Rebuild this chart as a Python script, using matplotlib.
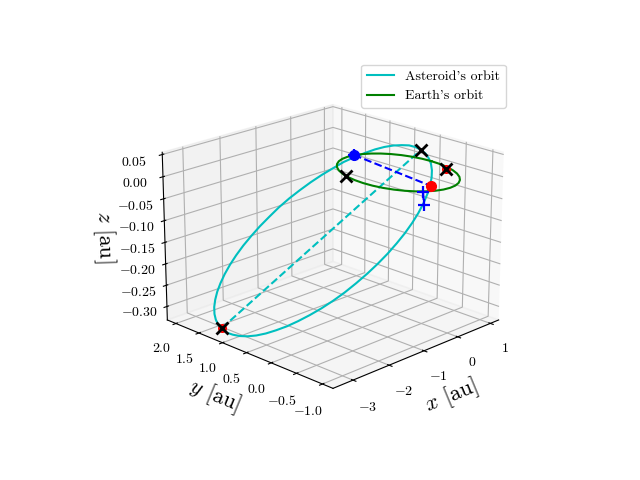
import matplotlib
matplotlib.use('Agg')
import matplotlib.pyplot as plt

plt.rcParams['mathtext.fontset'] = 'cm'
plt.rcParams['font.family'] = ['cmr10', 'DejaVu Serif']
plt.rcParams['axes.formatter.use_mathtext'] = True
plt.rcParams['axes.unicode_minus'] = True

# Asteroid's orbit, au
ast_x = [0.500, 0.445, 0.368, 0.274, 0.162, 0.033, -0.112, -0.269, -0.439, -0.618,
         -0.806, -1.000, -1.198, -1.398, -1.597, -1.793, -1.985, -2.170, -2.346, -2.511,
         -2.663, -2.802, -2.923, -3.029, -3.115, -3.184, -3.231, -3.258, -3.264, -3.249,
         -3.213, -3.158, -3.083, -2.988, -2.876, -2.746, -2.603, -2.444, -2.275, -2.095,
         -1.907, -1.713, -1.515, -1.316, -1.117, -0.920, -0.728, -0.544, -0.368, -0.203,
         -0.050, 0.087, 0.210, 0.315, 0.402, 0.469, 0.517, 0.544, 0.551, 0.536, 0.500]
ast_y = [-0.119, -0.241, -0.354, -0.457, -0.549, -0.628, -0.694, -0.747, -0.785, -0.808, -0.816, -0.808,
         -0.786, -0.749, -0.697, -0.632, -0.553, -0.462, -0.359, -0.247, -0.125, 0.004, 0.140, 0.280,
         0.423, 0.568, 0.713, 0.857, 0.997, 1.133, 1.262, 1.384, 1.497, 1.600, 1.692, 1.771,
         1.837, 1.890, 1.928, 1.951, 1.959, 1.951, 1.929, 1.892, 1.840, 1.775, 1.696, 1.605,
         1.502, 1.390, 1.268, 1.139, 1.004, 0.863, 0.720, 0.575, 0.430, 0.287, 0.146, 0.011, -0.119]
ast_z = [0.042, 0.039, 0.034, 0.028, 0.019, 0.009, -0.003, -0.016, -0.031, -0.047, -0.064, -0.082,
         -0.100, -0.119, -0.138, -0.157, -0.176, -0.195, -0.213, -0.230, -0.246, -0.261, -0.275, -0.287,
         -0.298, -0.307, -0.314, -0.319, -0.322, -0.324, -0.323, -0.320, -0.315, -0.309, -0.300, -0.290,
         -0.278, -0.265, -0.250, -0.234, -0.217, -0.199, -0.181, -0.162, -0.143, -0.123, -0.104, -0.086,
         -0.068, -0.051, -0.035, -0.019, -0.006, 0.006, 0.017, 0.026, 0.033, 0.038, 0.042, 0.043, 0.042]

# Earth's orbit, au
earth_x = [1.0, 0.985, 0.94, 0.866, 0.766, 0.643, 0.5, 0.342, 0.174, 0.0, -0.174, -0.342, -0.5,
           -0.643, -0.766, -0.866, -0.94, -0.985, -1.0, -0.985, -0.94, -0.866, -0.766, -0.643, -0.5,
           -0.342, -0.174, 0.0, 0.174, 0.342, 0.5, 0.643, 0.766, 0.866, 0.94, 0.985, 1.0]
earth_y = [0.0, 0.174, 0.342, 0.5, 0.643, 0.766, 0.866, 0.94, 0.985, 1.0, 0.985, 0.94, 0.866,
           0.766, 0.643, 0.5, 0.342, 0.174, 0.0, -0.174, -0.342, -0.5, -0.643, -0.766, -0.866,
           -0.94, -0.985, -1.0, -0.985, -0.94, -0.866, -0.766, -0.643, -0.5, -0.342, -0.174, 0.0]
earth_z = [0.0] * 37

# Apsidal line of the asteroid
apsis_x = [-3.213, 0.500]
apsis_y = [1.264, -0.119]
apsis_z = [-0.32, 0.042]

# Line joining the two orbit crossings
node_x = [0.179, -0.186]
node_y = [0.994, -0.759]
node_z = [0.0, 0.0]

# Short link between the two plus marks
link_x = [-0.569, -0.729]
link_y = [-0.856, -0.981]
link_z = [0.0, -0.02]

black_x = [-3.213, 0.500, -0.922, 0.828]
black_y = [1.264, -0.119, 0.389, -0.395]
black_z = [-0.32, 0.042, 0.0, 0.0]
red_x = [-3.213, 0.828]
red_y = [1.264, -0.395]
red_z = [-0.32, 0.0]

fig = plt.figure(figsize=(6.4, 4.8), dpi=100)
ax = fig.add_subplot(projection='3d')
ax.computed_zorder = False
ax.plot(ast_x, ast_y, ast_z, color='c', label="Asteroid's orbit", zorder=2)
ax.plot(earth_x, earth_y, earth_z, color='g', label="Earth's orbit", zorder=3)
ax.plot(apsis_x, apsis_y, apsis_z, 'c--', zorder=2)
ax.plot(node_x, node_y, node_z, 'b--', zorder=4)
ax.plot(link_x, link_y, link_z, 'b--', zorder=4)
ax.plot(red_x, red_y, red_z, 'o', color='r', ms=5.5, zorder=5)
ax.plot(black_x, black_y, black_z, 'x', color='k', ms=8, mew=2, zorder=6)
ax.plot(link_x + node_x[:1], link_y + node_y[:1], link_z + node_z[:1], '+', color='b', ms=8, mew=1.6, zorder=7)
ax.plot(node_x[:1], node_y[:1], node_z[:1], 'o', color='b', ms=7, zorder=8)
ax.plot(node_x[1:], node_y[1:], node_z[1:], 'o', color='r', ms=7, zorder=8)
ax.set_xlim(-3.54, 1.26)
ax.set_ylim(-1.20, 2.19)
ax.set_zlim(-0.332, 0.055)
ax.view_init(elev=20, azim=-135)
ax.set_xlabel(r'$x$ [au]', fontsize=16)
ax.set_ylabel(r'$y$ [au]', fontsize=16)
ax.set_zlabel(r'$z$ [au]', fontsize=16)
ax.legend(loc='upper right')
fig.savefig('out.png', dpi=100)
